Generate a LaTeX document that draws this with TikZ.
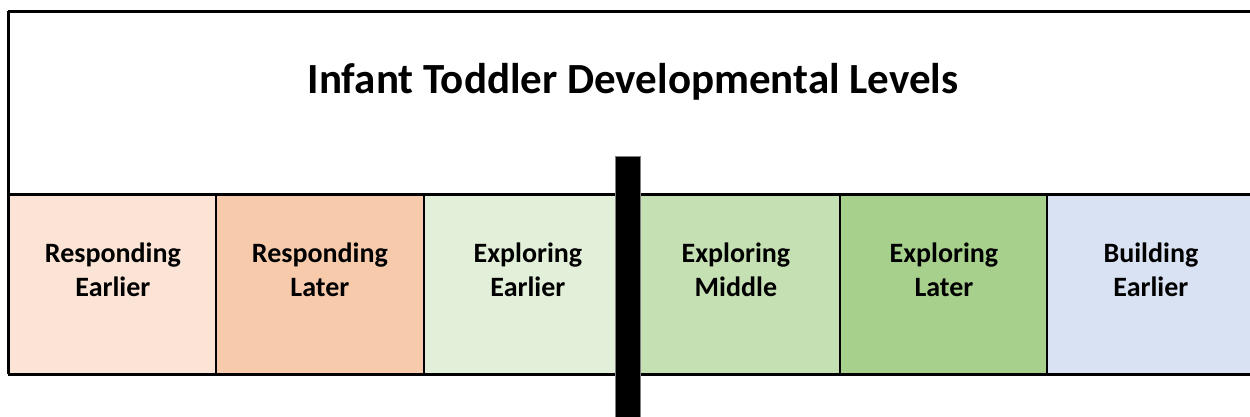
\documentclass[tikz,border=0pt]{standalone}
\usepackage{fontspec}
\setmainfont{Carlito}
\definecolor{cA}{HTML}{FBE4D5}
\definecolor{cB}{HTML}{F7CAAC}
\definecolor{cC}{HTML}{E2EFD9}
\definecolor{cD}{HTML}{C5E0B3}
\definecolor{cE}{HTML}{A8D08D}
\definecolor{cF}{HTML}{D9E2F3}
\tikzset{
  cell/.style={draw=black, line width=1.8pt, minimum width=208pt, minimum height=180pt, inner sep=0pt, anchor=north west},
  lbl/.style={font=\bfseries\fontsize{28}{34}\selectfont, align=center, inner sep=0pt, anchor=north},
  frame/.style={draw=black, line width=2.2pt},
}
\begin{document}
\begin{tikzpicture}[x=1pt,y=-1pt]
\useasboundingbox (0,0) rectangle (1250,417);
\begin{scope}
\clip (0,0) rectangle (1250,417);
\node[frame, minimum width=1246pt, minimum height=183pt, inner sep=0pt, anchor=north west] (top) at (8,11) {};
\node[cell, fill=cA] (b1) at (8,194) {};
\node[cell, fill=cB] (b2) at (215,194) {};
\node[cell, fill=cC] (b3) at (423,194) {};
\node[cell, fill=cD] (b4) at (631,194) {};
\node[cell, fill=cE] (b5) at (839,194) {};
\node[cell, fill=cF] (b6) at (1046,194) {};
\draw[frame] (8,11) -- (1254,11);
\draw[frame] (8,194) -- (1254,194);
\draw[frame] (8,374) -- (1254,374);
\draw[frame] (8,11) -- (8,374);
\node[draw=gray, line width=0.6pt, fill=black, minimum width=25pt, minimum height=270pt, inner sep=0pt, anchor=north west] (bar) at (615,156) {};
\end{scope}
\node[font=\bfseries\fontsize{43}{52}\selectfont, anchor=base, inner sep=0pt] (title) at (633,94) {Infant Toddler Developmental Levels};
\node[lbl] (t1) at ([yshift=-49pt]b1.north) {Responding\\Earlier};
\node[lbl] (t2) at ([yshift=-49pt]b2.north) {Responding\\Later};
\node[lbl] (t3) at ([yshift=-49pt]b3.north) {Exploring\\Earlier};
\node[lbl] (t4) at ([yshift=-49pt]b4.north) {Exploring\\Middle};
\node[lbl] (t5) at ([yshift=-49pt]b5.north) {Exploring\\Later};
\node[lbl] (t6) at ([yshift=-49pt]b6.north) {Building\\Earlier};
\end{tikzpicture}
\end{document}
